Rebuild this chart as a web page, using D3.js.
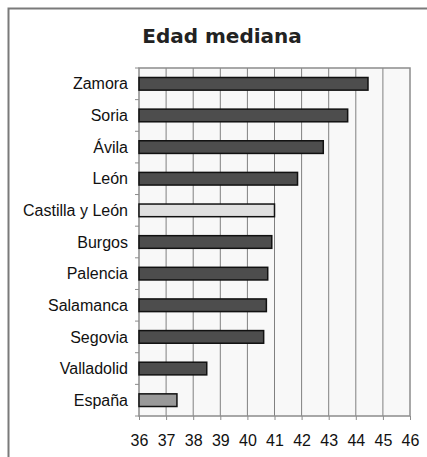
<!DOCTYPE html>
<html lang="es">
<head>
<meta charset="UTF-8">
<title>Edad mediana</title>
<style>
  body { margin: 0; background: #fff; }
  svg { display: block; }
</style>
</head>
<body>
<div id="chart"></div>
<script src="https://d3js.org/d3.v7.min.js"></script>
<script>
// data
const provincias = ["Zamora", "Soria", "Ávila", "León", "Castilla y León", "Burgos",
                    "Palencia", "Salamanca", "Segovia", "Valladolid", "España"];
const edadMediana = [44.45, 43.7, 42.8, 41.85, 41.0, 40.9, 40.75, 40.7, 40.6, 38.5, 37.4];
const xTicks = [36, 37, 38, 39, 40, 41, 42, 43, 44, 45, 46];

const W = 427, H = 457;
const margin = {top: 68, right: 17, bottom: 41, left: 139};
const width = W - margin.left - margin.right,
      height = H - margin.top - margin.bottom;

const svg = d3.select("#chart").append("svg")
  .attr("width", W)
  .attr("height", H);

// outer frame (only top and left edges are visible)
svg.append("path")
  .attr("d", "M8.5," + H + "V8.5H" + W)
  .attr("fill", "none")
  .attr("stroke", "#7a7a7a")
  .attr("stroke-width", 2);

svg.append("text")
  .attr("x", 222)
  .attr("y", 43)
  .attr("text-anchor", "middle")
  .style("font-family", "'DejaVu Sans', sans-serif")
  .style("font-weight", "bold")
  .style("font-size", "20px")
  .style("fill", "#222")
  .text("Edad mediana");

const g = svg.append("g")
  .attr("transform", "translate(" + margin.left + "," + margin.top + ")");

const x = d3.scaleLinear().domain([36, 46]).range([0, width]);
const y = d3.scaleBand().domain(provincias).range([0, height])
  .paddingInner(0.6).paddingOuter(0.3);

g.append("rect")
  .attr("width", width)
  .attr("height", height)
  .attr("fill", "#f8f8f8");

// vertical gridlines
g.selectAll(".grid")
  .data(xTicks.slice(1, -1))
  .enter().append("line")
  .attr("x1", d => x(d)).attr("x2", d => x(d))
  .attr("y1", 0).attr("y2", height)
  .attr("stroke", "#808080")
  .attr("stroke-width", 1);

g.append("rect")
  .attr("width", width)
  .attr("height", height)
  .attr("fill", "none")
  .attr("stroke", "#8c8c8c")
  .attr("stroke-width", 1.5);

function barColor(d) {
  if (d === "Castilla y León") return "#e0e0e0";
  if (d === "España") return "#999";
  return "#4d4d4d";
}

g.selectAll(".bar")
  .data(provincias)
  .enter().append("rect")
  .attr("class", "bar")
  .attr("x", x(36))
  .attr("y", d => y(d))
  .attr("width", (d, i) => x(edadMediana[i]) - x(36))
  .attr("height", y.bandwidth())
  .attr("fill", d => barColor(d))
  .attr("stroke", "#111")
  .attr("stroke-width", 1.5);

// category labels
g.selectAll(".lab")
  .data(provincias)
  .enter().append("text")
  .attr("x", -11)
  .attr("y", d => y(d) + y.bandwidth() / 2)
  .attr("dy", "0.35em")
  .attr("text-anchor", "end")
  .style("font-family", "'Liberation Sans', Arial, sans-serif")
  .style("font-size", "16px")
  .style("fill", "#111")
  .text(d => d);

// left ticks at band boundaries
const step = y.step();
const bounds = d3.range(provincias.length + 1).map(i => i * step);
g.selectAll(".ytick")
  .data(bounds)
  .enter().append("line")
  .attr("x1", -4).attr("x2", 0)
  .attr("y1", d => d).attr("y2", d => d)
  .attr("stroke", "#8c8c8c");

// x axis
const xAxis = g.append("g")
  .attr("transform", "translate(0," + height + ")")
  .call(d3.axisBottom(x).tickValues(xTicks).tickSize(4).tickPadding(15));
xAxis.select(".domain").remove();
xAxis.selectAll("line").attr("stroke", "#8c8c8c");
xAxis.selectAll("text")
  .style("font-family", "'Liberation Sans', Arial, sans-serif")
  .style("font-size", "16px")
  .style("fill", "#111");
</script>
</body>
</html>
